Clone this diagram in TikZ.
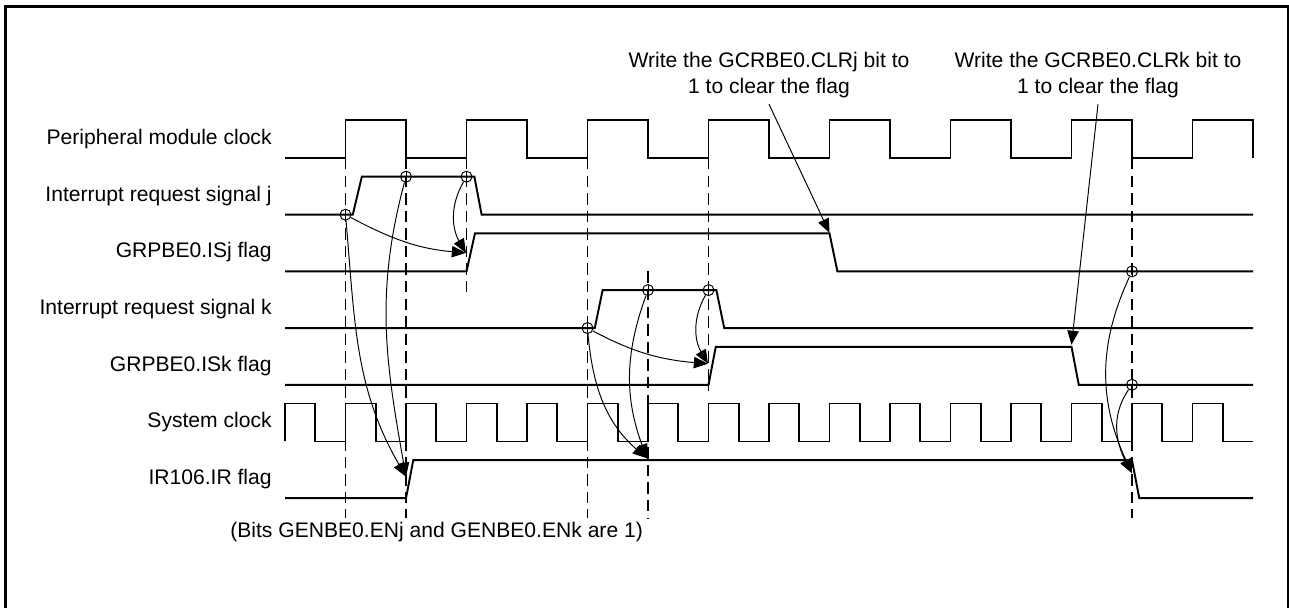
\documentclass[tikz,border=0pt]{standalone}
\usepackage{fontspec}
\setmainfont{Liberation Sans}
\usetikzlibrary{arrows.meta, calc}

\begin{document}
\begin{tikzpicture}[
    font=\fontsize{12pt}{15pt}\selectfont,
    wave/.style={line width=1.1pt},
    guide/.style={line width=1.1pt, dash pattern=on 6.5pt off 3.5pt},
    cause/.style={line width=0.55pt, -{Triangle[length=8pt, width=6.5pt]}},
    probe/.style={circle, draw, line width=0.55pt, minimum size=2.2mm, inner sep=0pt,
        path picture={
            \draw[line width=0.55pt]
                (path picture bounding box.north) -- (path picture bounding box.south)
                (path picture bounding box.west) -- (path picture bounding box.east);
        }},
    siglabel/.style={anchor=east, inner sep=0pt},
]

\useasboundingbox (0,0) rectangle (25.78,12.16);

% Frame, open at the bottom
\draw[line width=1.7pt] (0.106,0) |- (25.76,12.02) -- (25.76,0);

% =============================================================================
% Timing rows (x in system clock periods)
% =============================================================================
\begin{scope}[shift={(5.7,0)}, x=1.21cm]

    % Dashed guide lines
    \foreach \t/\ytop/\ybot in {1/9.0/1.8, 2/9.0/1.8, 3/9.0/6.32, 5/9.0/1.8,
                                6/6.73/1.8, 7/9.0/4.33, 14/9.0/1.8} {
        \draw[guide] (\t,\ytop) -- (\t,\ybot);
    }

    % Peripheral module clock
    \begin{scope}[yshift=9cm]
        \node[siglabel] (lblPclk) at (-0.215,0.38) {Peripheral module clock};
        \draw[wave] (0,0) \foreach \k in {1,3,...,15} {
            -- (\k,0) -- (\k,0.76) -- (\k+1,0.76) -- (\k+1,0) };
    \end{scope}

    % Interrupt request signal j
    \begin{scope}[yshift=7.866cm]
        \node[siglabel] (lblIrqJ) at (-0.215,0.38) {Interrupt request signal j};
        \draw[wave] (0,0) -- (1.12,0) -- (1.27,0.76) -- (3.13,0.76) -- (3.25,0) -- (16,0);
        \node[probe] (m1) at (1,0) {};
        \node[probe] (m2) at (2,0.76) {};
        \node[probe] (m3) at (3,0.76) {};
    \end{scope}

    % GRPBE0.ISj flag
    \begin{scope}[yshift=6.732cm]
        \node[siglabel] (lblIsJ) at (-0.215,0.38) {GRPBE0.ISj flag};
        \draw[wave] (0,0) -- (3,0) -- (3.14,0.76) -- (9,0.76) -- (9.13,0) -- (16,0);
        \node[probe] (m7) at (14,0) {};
        \coordinate (setJ) at (2.99,0.37);
        \coordinate (clrJ) at (9,0.77);
    \end{scope}

    % Interrupt request signal k
    \begin{scope}[yshift=5.598cm]
        \node[siglabel] (lblIrqK) at (-0.215,0.38) {Interrupt request signal k};
        \draw[wave] (0,0) -- (5.12,0) -- (5.25,0.76) -- (7.13,0.76) -- (7.26,0) -- (16,0);
        \node[probe] (m4) at (5,0) {};
        \node[probe] (m5) at (6,0.76) {};
        \node[probe] (m6) at (7,0.76) {};
    \end{scope}

    % GRPBE0.ISk flag
    \begin{scope}[yshift=4.464cm]
        \node[siglabel] (lblIsK) at (-0.215,0.38) {GRPBE0.ISk flag};
        \draw[wave] (0,0) -- (7,0) -- (7.12,0.76) -- (13,0.76) -- (13.12,0) -- (16,0);
        \node[probe] (m8) at (14,0) {};
        \coordinate (setK) at (6.99,0.42);
        \coordinate (clrK) at (13,0.8);
    \end{scope}

    % System clock
    \begin{scope}[yshift=3.33cm]
        \node[siglabel] (lblSclk) at (-0.215,0.38) {System clock};
        \draw[wave] (0,0) -- (0,0.76) \foreach \k in {0,...,14} {
            -- (\k+0.5,0.76) -- (\k+0.5,0) -- (\k+1,0) -- (\k+1,0.76) }
            -- (15.5,0.76) -- (15.5,0) -- (16,0);
    \end{scope}

    % IR106.IR flag
    \begin{scope}[yshift=2.196cm]
        \node[siglabel] (lblIr) at (-0.215,0.38) {IR106.IR flag};
        \draw[wave] (0,0) -- (2,0) -- (2.12,0.76) -- (14,0.76) -- (14.12,0) -- (16,0);
        \coordinate (irSetA) at (2,0.43);
        \coordinate (irSetB) at (5.98,0.8);
        \coordinate (irClr) at (14,0.5);
    \end{scope}

    % Cause and effect arrows
    \draw[cause] (m1) to[out=-28, in=175] (setJ);
    \draw[cause] (m3) to[out=240, in=120] (setJ);
    \draw[cause] (m1) to[out=-85, in=120] (irSetA);
    \draw[cause] (m2) to[out=255, in=100] (irSetA);
    \draw[cause] (m4) to[out=-28, in=175] (setK);
    \draw[cause] (m6) to[out=240, in=120] (setK);
    \draw[cause] (m4) to[out=-85, in=139] (irSetB);
    \draw[cause] (m5) to[out=250, in=110] (irSetB);
    \draw[cause] (m7) to[out=245, in=115] (irClr);
    \draw[cause] (m8) to[out=235, in=118] (irClr);
\end{scope}

% =============================================================================
% Notes
% =============================================================================
\node[align=center] (noteJ) at (15.38,10.66) {Write the GCRBE0.CLRj bit to\\1 to clear the flag};
\node[align=center] (noteK) at (21.96,10.66) {Write the GCRBE0.CLRk bit to\\1 to clear the flag};
\draw[cause] (noteJ.south) -- (clrJ);
\draw[cause] (noteK.south) -- (clrK);

\node[anchor=west, inner sep=0pt] (bitsNote) at (4.6,1.52) {(Bits GENBE0.ENj and GENBE0.ENk are 1)};

\end{tikzpicture}
\end{document}
